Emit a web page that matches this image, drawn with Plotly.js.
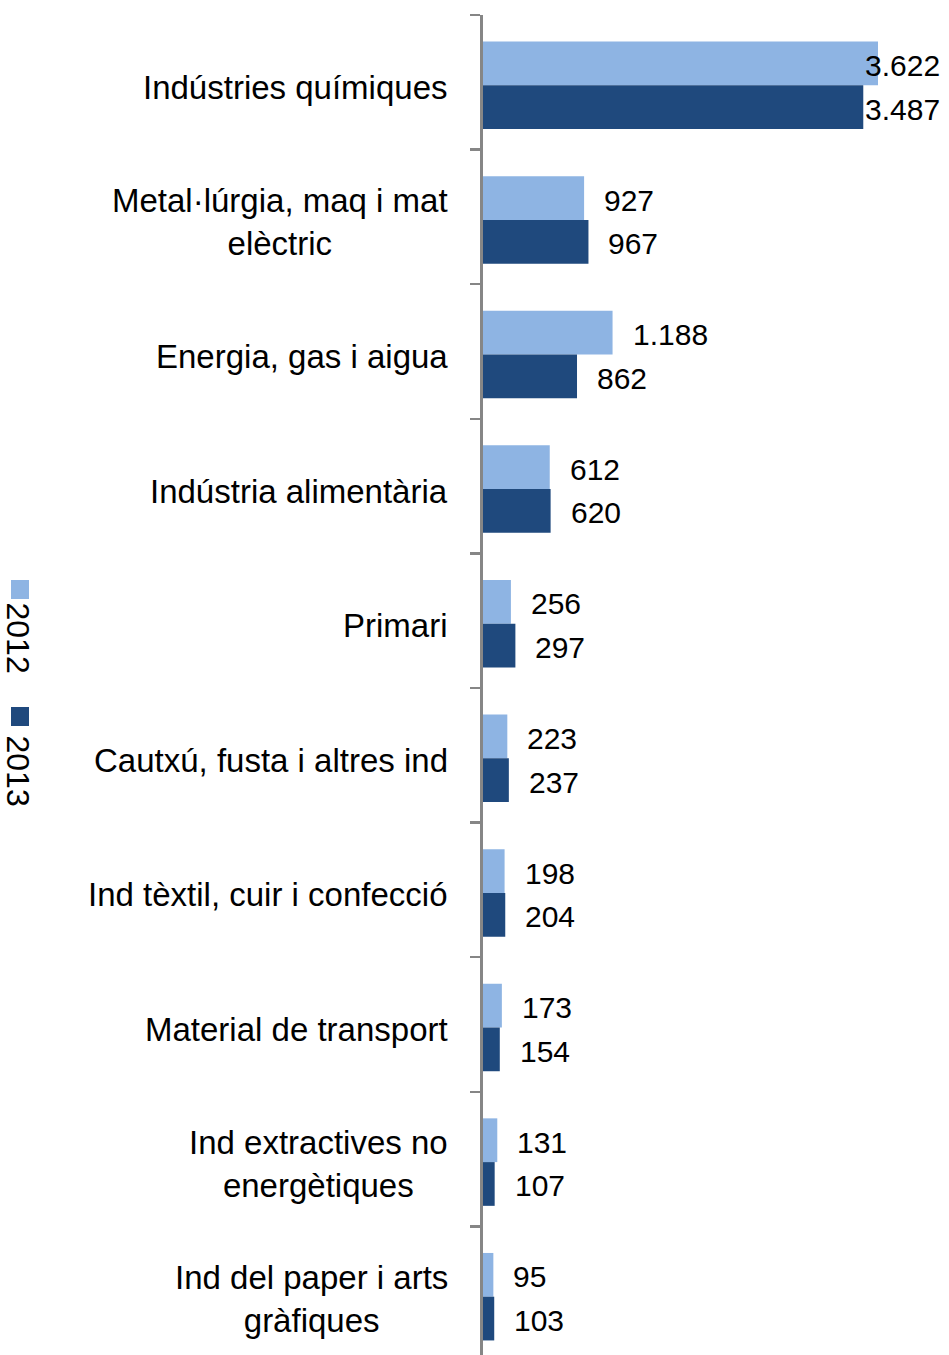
<!DOCTYPE html>
<html>
<head>
<meta charset="utf-8">
<script src="https://cdn.plot.ly/plotly-3.0.1.min.js"></script>
<style>html,body{margin:0;padding:0;background:#fff;}#chart{width:949px;height:1355px;}</style>
</head>
<body>
<div id="chart"></div>
<script>
const categories = [
  "Indústries químiques",
  "Metal·lúrgia, maq i mat<br>elèctric",
  "Energia, gas i aigua",
  "Indústria alimentària",
  "Primari",
  "Cautxú, fusta i altres ind",
  "Ind tèxtil, cuir i confecció",
  "Material de transport",
  "Ind extractives no<br>energètiques",
  "Ind del paper i arts<br>gràfiques"
];
const values2012 = [3622, 927, 1188, 612, 256, 223, 198, 173, 131, 95];
const values2013 = [3487, 967, 862, 620, 297, 237, 204, 154, 107, 103];
const seriesNames = ["2012", "2013"];
const colors = ["#8EB4E3", "#1F497D"];

const W = 949, H = 1355;
const plotLeft = 483, plotTop = 15;
const xMax = 4273;
const bargap = 0.35;
const spacing = 134.6;
const shiftUnits = 3 / spacing;

function fmt(v) {
  return v.toString().replace(/\B(?=(\d{3})+(?!\d))/g, ".");
}

const idx = categories.map((c, i) => i);

const traces = [values2012, values2013].map((vals, s) => ({
  type: "bar",
  orientation: "h",
  name: seriesNames[s],
  y: idx,
  x: vals,
  marker: { color: colors[s], line: { width: 0 } },
  hoverinfo: "skip"
}));

const annotations = [];
const labelFont = { family: "Liberation Sans, Arial, sans-serif", size: 33, color: "#000" };
const valueFont = { family: "Liberation Sans, Arial, sans-serif", size: 30, color: "#000" };

// category labels
categories.forEach((c, i) => {
  annotations.push({
    xref: "x", yref: "y", x: 0, y: i,
    text: c, showarrow: false, xanchor: "right", yanchor: "middle",
    align: "center", xshift: -34, yshift: -2, font: labelFont, borderpad: 0
  });
});

// value labels
const pxPerUnit = (W - plotLeft) / xMax;
const half = (1 - bargap) / 2;
[values2012, values2013].forEach((vals, s) => {
  vals.forEach((v, i) => {
    const yPos = i + (s === 0 ? -half / 2 : half / 2);
    const txt = fmt(v);
    const estEnd = plotLeft + v * pxPerUnit + 20 + txt.length * 16;
    if (estEnd > W - 8) {
      annotations.push({
        xref: "paper", yref: "y", x: (W - 8) / W, y: yPos,
        text: txt, showarrow: false, xanchor: "right", yanchor: "middle",
        yshift: -2, font: valueFont, borderpad: 0
      });
    } else {
      annotations.push({
        xref: "x", yref: "y", x: v, y: yPos,
        text: txt, showarrow: false, xanchor: "left", yanchor: "middle",
        xshift: 19, yshift: -2, font: valueFont, borderpad: 0
      });
    }
  });
});

// legend (rotated)
const legendY = [638, 771];
const legendSqY = [580, 707];
seriesNames.forEach((n, s) => {
  annotations.push({
    xref: "paper", yref: "paper", x: 17.5 / W, y: 1 - legendY[s] / H,
    text: n, showarrow: false, textangle: 90, xanchor: "center", yanchor: "middle",
    borderpad: 0,
    font: { family: "Liberation Sans, Arial, sans-serif", size: 32, color: "#000" }
  });
});
const shapes = seriesNames.map((n, s) => ({
  type: "rect", xref: "paper", yref: "paper",
  x0: 11 / W, x1: 29 / W,
  y0: 1 - (legendSqY[s] + 19) / H, y1: 1 - legendSqY[s] / H,
  fillcolor: colors[s], line: { width: 0 }
}));

const yTop = -0.5 - shiftUnits;
const yBottom = yTop + (H - plotTop) / spacing;

const layout = {
  width: W, height: H,
  margin: { l: 0, r: 0, t: 0, b: 0 },
  paper_bgcolor: "#fff", plot_bgcolor: "#fff",
  showlegend: false,
  barmode: "group",
  bargap: bargap,
  bargroupgap: 0,
  xaxis: {
    domain: [plotLeft / W, 1],
    range: [0, xMax],
    visible: false, showgrid: false, zeroline: false
  },
  yaxis: {
    domain: [0, 1 - plotTop / H],
    type: "linear",
    range: [yBottom, yTop],
    showgrid: false, zeroline: false,
    showline: true, linecolor: "#868686", linewidth: 3,
    ticks: "outside", ticklen: 10, tickwidth: 2.5, tickcolor: "#868686",
    tickmode: "array",
    tickvals: idx.map(i => i - 0.5 - shiftUnits).concat([categories.length - 0.5 - shiftUnits]),
    showticklabels: false
  },
  annotations: annotations,
  shapes: shapes
};

Plotly.newPlot("chart", traces, layout, { staticPlot: true, displayModeBar: false });
</script>
</body>
</html>
